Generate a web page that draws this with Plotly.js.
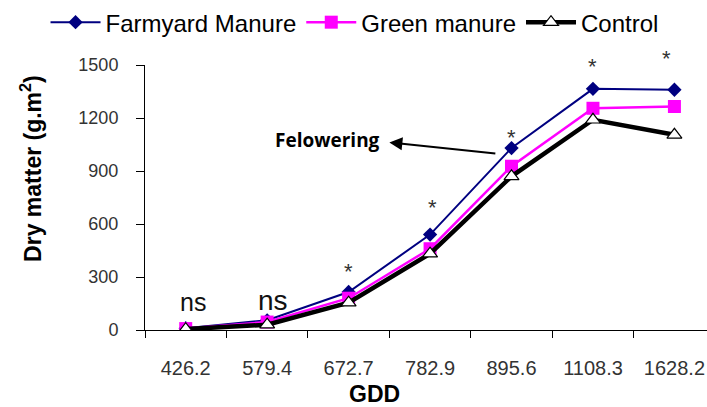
<!DOCTYPE html>
<html>
<head>
<meta charset="utf-8">
<script src="https://cdn.plot.ly/plotly-3.0.1.min.js"></script>
<style>html,body{margin:0;padding:0;background:#fff;}#chart{width:707px;height:407px;}</style>
</head>
<body>
<div id="chart"></div>
<script>
// ---- data ----
const gdd = ["426.2", "579.4", "672.7", "782.9", "895.6", "1108.3", "1628.2"];
const farmyard = [10, 55, 215, 540, 1030, 1365, 1360];
const greenManure = [8, 45, 180, 460, 927, 1255, 1265];
const control = [5, 30, 155, 432, 870, 1190, 1105];
const significance = ["ns", "ns", "*", "*", "*", "*", "*"];
const yTicks = [0, 300, 600, 900, 1200, 1500];

const FONT = "Liberation Sans, Arial, sans-serif";

const traces = [
  {
    x: gdd, y: farmyard, name: "Farmyard Manure", type: "scatter", mode: "lines+markers",
    line: {color: "#000080", width: 2},
    marker: {symbol: "diamond", size: 11, color: "#000080"}
  },
  {
    x: gdd, y: greenManure, name: "Green manure", type: "scatter", mode: "lines+markers",
    line: {color: "#FF00FF", width: 2.5},
    marker: {symbol: "square", size: 13, color: "#FF00FF"}
  },
  {
    x: gdd, y: control, name: "Control", type: "scatter", mode: "lines+markers",
    line: {color: "#000000", width: 4.5},
    marker: {symbol: "triangle-up", size: 13, color: "#ffffff", line: {color: "#000000", width: 1.2}}
  }
];

// label offsets (pixels) for the significance marks
const sigDy = [26, 20, 21, 27, 11, 22, 31];
const sigDx = [7, 6, 0, 2, 0, 0, -8];

const annotations = significance.map((s, i) => ({
  x: i, y: farmyard[i], xref: "x", yref: "y",
  text: s, showarrow: false,
  yshift: sigDy[i], xshift: sigDx[i],
  font: {family: FONT, size: s === "ns" ? (i === 0 ? 25 : 28) : 22, color: s === "ns" ? "#111" : "#333"}
}));

// Flowering arrow and label
annotations.push({
  x: 2.5, y: 1062, xref: "x", yref: "y",
  ax: 3.82, ay: 998, axref: "x", ayref: "y",
  text: " ", showarrow: true, arrowhead: 2, arrowsize: 1.3, arrowwidth: 2, arrowcolor: "#000", standoff: 0,
  font: {size: 1}
});
annotations.push({
  x: 1.74, y: 1078, xref: "x", yref: "y",
  text: "Felowering", showarrow: false,
  font: {family: "Open Sans, sans-serif", size: 19, color: "#000", weight: "bold"}
});
// axis titles
annotations.push({
  x: (374 - 145) / 562, y: -0.24, xref: "paper", yref: "paper",
  text: "<b>GDD</b>", showarrow: false, yanchor: "middle",
  font: {family: FONT, size: 23, color: "#000"}
});
annotations.push({
  x: -0.203, y: (330 - 168) / 265, xref: "paper", yref: "paper",
  text: "<b>Dry matter (g.m<sup>2</sup>)</b>", showarrow: false, textangle: -90,
  xanchor: "center", yanchor: "middle",
  font: {family: FONT, size: 23, color: "#000"}
});

const layout = {
  width: 707, height: 407,
  margin: {l: 145, r: 0, t: 65, b: 77, pad: 0},
  paper_bgcolor: "#fff", plot_bgcolor: "#fff",
  showlegend: true,
  legend: {
    orientation: "h", x: -0.177, y: 1.245, xanchor: "left", yanchor: "top",
    font: {family: FONT, size: 24, color: "#000"},
    itemwidth: 50,
    bgcolor: "rgba(0,0,0,0)", tracegroupgap: 0
  },
  xaxis: {
    type: "category", range: [-0.5, 6.4], tickson: "boundaries",
    ticks: "outside", ticklen: 7, tickcolor: "#000", tickwidth: 1,
    showline: true, linecolor: "#000", linewidth: 1,
    showgrid: false, zeroline: false,
    tickfont: {family: FONT, size: 20, color: "#333"},
    ticklabelstandoff: 20
  },
  yaxis: {
    range: [0, 1500], tickvals: yTicks,
    ticks: "outside", ticklen: 8, tickcolor: "#000", tickwidth: 1,
    showline: true, linecolor: "#000", linewidth: 1,
    showgrid: false, zeroline: false,
    tickfont: {family: FONT, size: 18, color: "#333"},
    ticklabelstandoff: 14
  },
  annotations: annotations
};

Plotly.newPlot("chart", traces, layout, {displayModeBar: false, staticPlot: true});
</script>
</body>
</html>
